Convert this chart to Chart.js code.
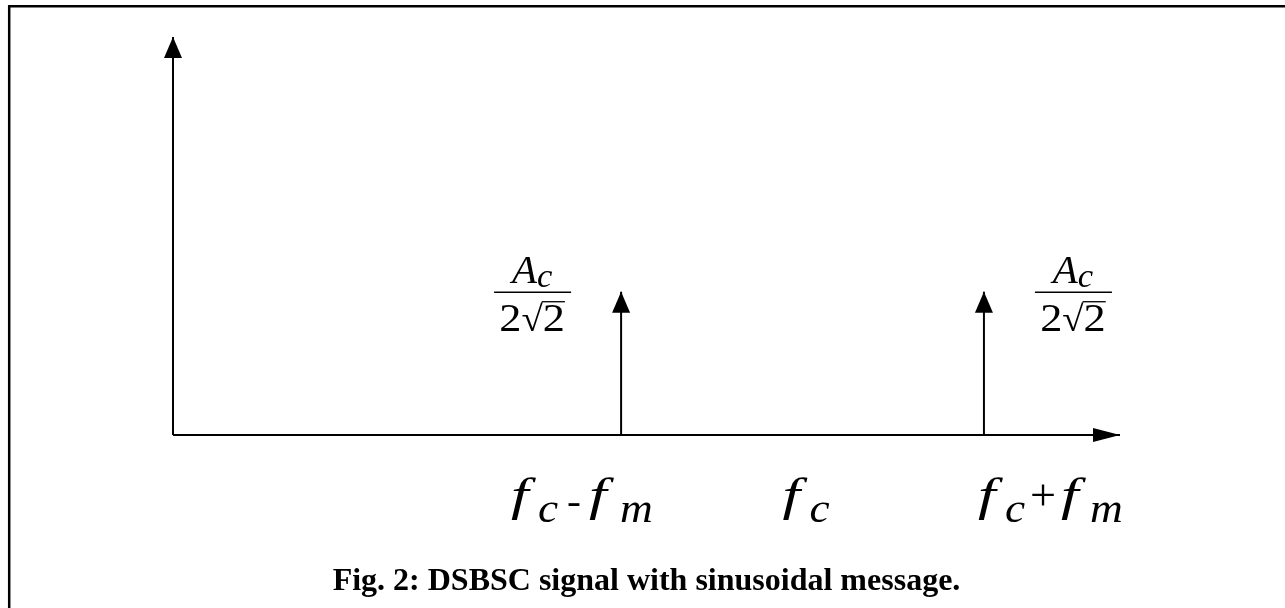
<!DOCTYPE html>
<html>
<head>
<meta charset="utf-8">
<script src="https://cdn.jsdelivr.net/npm/chart.js@4.4.0/dist/chart.umd.min.js"></script>
<style>
  html, body { margin: 0; padding: 0; background: #fff; }
  #wrap { position: relative; width: 1285px; height: 608px; }
</style>
</head>
<body>
<div id="wrap"><canvas id="spectrum"></canvas></div>
<script>
// frequency axis, in units of fm (fc = 3.47)
const xMax = 5.22
const yMax = 1.0
const impulseFreqs = [2.47, 4.47]
const impulseAmps = [0.36, 0.36]
const tickFreqs = [2.47, 3.47, 4.47]
// f = main symbol, c/m = subscripts, +/- = operators
const tickLabels = [['f', 'c', '-', 'f', 'm'], ['f', 'c'], ['f', 'c', '+', 'f', 'm']]
const ampNum = ['A', 'c']
const ampDen = ['2', '√', '2']
const caption = 'Fig. 2: DSBSC signal with sinusoidal message.'

const SERIF = '"Liberation Serif", "Times New Roman", serif'

// label placement (pixels): start of each label relative to its tick, and x of each part
const tickShift = [-110, -20, -6]
const tickParts = [[0, 27, 56, 78, 109], [0, 27], [0, 27, 52, 83, 112]]
const ampShift = [-89, 89]

var datasets = [
  { data: [{x: 0, y: 0}, {x: xMax, y: 0}], arrow: [27, 7] },
  { data: [{x: 0, y: 0}, {x: 0, y: yMax}], arrow: [21, 9] },
]
for (let i = 0; i < impulseFreqs.length; i++) {
  datasets.push({
    data: [{x: impulseFreqs[i], y: 0}, {x: impulseFreqs[i], y: impulseAmps[i]}],
    arrow: [21, 9]
  })
}
datasets.forEach(function (d) {
  d.showLine = true
  d.borderColor = '#000'
  d.borderWidth = 2
  d.pointRadius = 0
  d.clip = false
})

// font, vertical shift, horizontal stretch
function partStyle(p) {
  if (p == 'f') return ['italic 47px ' + SERIF, 0, 1.35]
  if (p == 'c' || p == 'm') return ['italic 42px ' + SERIF, 12, 1.08]
  if (p == '-') return ['38px ' + SERIF, 4, 1.1]
  return ['44px ' + SERIF, 0, 1.05]
}

// draw a row of [text, font, dy] parts centred on cx, stretched by sx
function drawRow(ctx, parts, cx, y, sx) {
  var w = 0
  parts.forEach(function (p) { ctx.font = p[1]; w += ctx.measureText(p[0]).width })
  ctx.save()
  ctx.translate(cx - w * sx / 2, y)
  ctx.scale(sx, 1)
  var x = 0
  var pos = []
  parts.forEach(function (p) {
    ctx.font = p[1]
    ctx.fillText(p[0], x, p[2])
    var pw = ctx.measureText(p[0]).width
    pos.push([cx - w * sx / 2 + x * sx, pw * sx])
    x += pw
  })
  ctx.restore()
  return pos
}

const drawing = {
  id: 'drawing',
  beforeDraw(chart) {
    const ctx = chart.ctx
    ctx.save()
    ctx.fillStyle = '#fff'
    ctx.fillRect(0, 0, chart.width, chart.height)
    ctx.strokeStyle = '#000'
    ctx.lineWidth = 2.5
    ctx.beginPath()
    ctx.moveTo(9.2, chart.height)
    ctx.lineTo(9.2, 6.3)
    ctx.lineTo(chart.width, 6.3)
    ctx.stroke()
    ctx.restore()
  },
  afterDatasetsDraw(chart) {
    const ctx = chart.ctx
    const xs = chart.scales.x
    const ys = chart.scales.y
    ctx.save()
    ctx.fillStyle = '#000'
    ctx.strokeStyle = '#000'
    ctx.textBaseline = 'alphabetic'

    // arrow heads at the end of each line
    chart.data.datasets.forEach(function (d, i) {
      const pts = chart.getDatasetMeta(i).data
      const p1 = pts[pts.length - 1]
      const p0 = pts[pts.length - 2]
      const a = Math.atan2(p1.y - p0.y, p1.x - p0.x)
      ctx.save()
      ctx.translate(p1.x, p1.y)
      ctx.rotate(a)
      ctx.beginPath()
      ctx.moveTo(0, 0)
      ctx.lineTo(-d.arrow[0], -d.arrow[1])
      ctx.lineTo(-d.arrow[0], d.arrow[1])
      ctx.closePath()
      ctx.fill()
      ctx.restore()
    })

    // amplitude labels Ac / (2 sqrt 2)
    for (let i = 0; i < impulseFreqs.length; i++) {
      const cx = xs.getPixelForValue(impulseFreqs[i]) + ampShift[i]
      const cy = ys.getPixelForValue(impulseAmps[i])
      drawRow(ctx, [[ampNum[0], 'italic 39px ' + SERIF, 0], [ampNum[1], 'italic 33px ' + SERIF, 4]], cx, cy - 9, 1.05)
      ctx.lineWidth = 1.5
      ctx.beginPath()
      ctx.moveTo(cx - 38, cy + 0.5)
      ctx.lineTo(cx + 39, cy + 0.5)
      ctx.stroke()
      const pos = drawRow(ctx, [[ampDen[0], '41px ' + SERIF, 0], [ampDen[1], '36px ' + SERIF, 0], [ampDen[2], '41px ' + SERIF, 0]], cx, cy + 39, 1.08)
      ctx.lineWidth = 1.3
      ctx.beginPath()
      ctx.moveTo(pos[2][0] - 1, cy + 10)
      ctx.lineTo(pos[2][0] + pos[2][1], cy + 10)
      ctx.stroke()
    }

    // frequency labels
    const base = ys.getPixelForValue(0)
    for (let i = 0; i < tickFreqs.length; i++) {
      const x0 = xs.getPixelForValue(tickFreqs[i]) + tickShift[i]
      tickLabels[i].forEach(function (p, j) {
        const s = partStyle(p)
        ctx.save()
        ctx.translate(x0 + tickParts[i][j], base + 75 + s[1])
        ctx.scale(s[2], 1)
        ctx.font = s[0]
        ctx.fillText(p, 0, 0)
        ctx.restore()
      })
    }

    // caption
    ctx.font = 'bold 32px ' + SERIF
    ctx.textAlign = 'center'
    ctx.fillText(caption, (chart.chartArea.left + chart.chartArea.right) / 2, 590)
    ctx.restore()
  }
}

const ctx = document.getElementById('spectrum')
const spectrumChart = new Chart(ctx, {
  type: 'scatter',
  data: { datasets: datasets },
  options: {
    responsive: true,
    maintainAspectRatio: false,
    animation: false,
    layout: { padding: { left: 173, right: 165, top: 37, bottom: 173 } },
    plugins: { legend: { display: false }, tooltip: { enabled: false } },
    scales: {
      x: { type: 'linear', min: 0, max: xMax, display: false },
      y: { type: 'linear', min: 0, max: yMax, display: false }
    }
  },
  plugins: [drawing]
})
</script>
</body>
</html>
